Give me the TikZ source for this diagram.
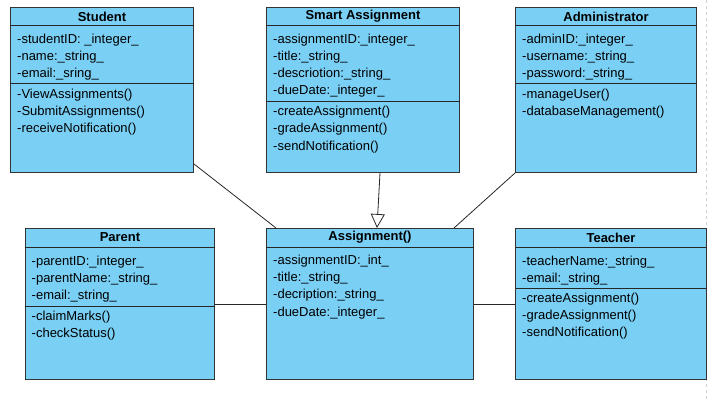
\documentclass[tikz,border=0pt]{standalone}
\usepackage{fontspec}
\setmainfont{Liberation Sans}
\usetikzlibrary{arrows.meta}
\definecolor{umlblue}{RGB}{122,207,245}
\begin{document}
\begin{tikzpicture}[x=1pt,y=-1pt]
    \tikzstyle{classbox} = [draw=black!80, fill=umlblue, line width=1pt, anchor=north west, inner sep=0pt];
    \tikzstyle{classname} = [font=\fontsize{13}{15}\selectfont\bfseries, inner sep=0pt];
    \tikzstyle{member} = [font=\fontsize{13}{15}\selectfont, anchor=west, inner sep=0pt, text height=9pt, text depth=3pt];
    \tikzstyle{divider} = [black!85, line width=1pt];
    \tikzstyle{assoc} = [black!85, line width=0.8pt];
    \tikzstyle{inherit} = [assoc, -{Triangle[width=14pt, length=14pt, fill=white]}];

    \useasboundingbox (0,0) rectangle (712,401);
    \draw[gray!35, dashed, line width=1.2pt] (706.5,0) -- (706.5,401);

    % class boxes
    \node[classbox, minimum width=183pt, minimum height=165pt] (student) at (10,7) {};
    \node[classbox, minimum width=193pt, minimum height=165pt] (smart) at (266,7) {};
    \node[classbox, minimum width=181pt, minimum height=165pt] (admin) at (515,7) {};
    \node[classbox, minimum width=189pt, minimum height=151pt] (parent) at (25,228) {};
    \node[classbox, minimum width=207pt, minimum height=151pt] (assign) at (266,228) {};
    \node[classbox, minimum width=191pt, minimum height=151pt] (teacher) at (515,228) {};

    % title bars
    \foreach \c in {student,smart,admin,parent,assign,teacher}
        \draw[divider] ([yshift=-19pt]\c.north west) -- ([yshift=-19pt]\c.north east);

    \node[classname] (student-n) at ([yshift=-9.5pt]student.north) {Student};
    \node[classname] (smart-n) at ([yshift=-9.5pt]smart.north) {Smart Assignment};
    \node[classname] (admin-n) at ([yshift=-9.5pt]admin.north) {Administrator};
    \node[classname] (parent-n) at ([yshift=-9.5pt]parent.north) {Parent};
    \node[classname] (assign-n) at ([yshift=-9.5pt]assign.north) {Assignment()};
    \node[classname] (teacher-n) at ([yshift=-9.5pt]teacher.north) {Teacher};

    % attribute / operation dividers
    \draw[divider] (student.west |- 0,84) -- (student.east |- 0,84);
    \draw[divider] (smart.west |- 0,102) -- (smart.east |- 0,102);
    \draw[divider] (admin.west |- 0,84) -- (admin.east |- 0,84);
    \draw[divider] (parent.west |- 0,306) -- (parent.east |- 0,306);
    \draw[divider] (teacher.west |- 0,288) -- (teacher.east |- 0,288);

    % Student
    \foreach \t [count=\i] in {-studentID: \_integer\_, -name:\_string\_, -email:\_sring\_}
        \node[member] (student-a\i) at (17,{24+17*\i}) {\t};
    \foreach \t [count=\i] in {-ViewAssignments(), -SubmitAssignments(), -receiveNotification()}
        \node[member] (student-m\i) at (17,{79+17*\i}) {\t};

    % Smart Assignment
    \foreach \t [count=\i] in {-assignmentID:\_integer\_, -title:\_string\_, -descriotion:\_string\_, -dueDate:\_integer\_}
        \node[member] (smart-a\i) at (273,{24+17*\i}) {\t};
    \foreach \t [count=\i] in {-createAssignment(), -gradeAssignment(), -sendNotification()}
        \node[member] (smart-m\i) at (273,{96+17*\i}) {\t};

    % Administrator
    \foreach \t [count=\i] in {-adminID:\_integer\_, -username:\_string\_, -password:\_string\_}
        \node[member] (admin-a\i) at (522,{24+17*\i}) {\t};
    \foreach \t [count=\i] in {-manageUser(), -databaseManagement()}
        \node[member] (admin-m\i) at (522,{79+17*\i}) {\t};

    % Parent
    \foreach \t [count=\i] in {-parentID:\_integer\_, -parentName:\_string\_, -email:\_string\_}
        \node[member] (parent-a\i) at (31.5,{245+17*\i}) {\t};
    \foreach \t [count=\i] in {-claimMarks(), -checkStatus()}
        \node[member] (parent-m\i) at (31.5,{300+17*\i}) {\t};

    % Assignment()
    \foreach \t [count=\i] in {-assignmentID:\_int\_, -title:\_string\_, -decription:\_string\_, -dueDate:\_integer\_}
        \node[member] (assign-a\i) at (273,{244+17.3*\i}) {\t};

    % Teacher
    \foreach \t [count=\i] in {-teacherName:\_string\_, -email:\_string\_}
        \node[member] (teacher-a\i) at (522,{245+17*\i}) {\t};
    \foreach \t [count=\i] in {-createAssignment(), -gradeAssignment(), -sendNotification()}
        \node[member] (teacher-m\i) at (522,{282+17.3*\i}) {\t};

    % relations
    \draw[assoc] ([yshift=9pt]student.south east) -- ([xshift=10pt]assign.north west);
    \draw[inherit] ([xshift=17pt]smart.south) -- ([xshift=7pt]assign.north);
    \draw[assoc] (admin.south west) -- ([xshift=-20pt]assign.north east);
    \draw[assoc] (parent.east) -- (assign.west);
    \draw[assoc] (assign.east) -- (teacher.west);

\end{tikzpicture}
\end{document}
